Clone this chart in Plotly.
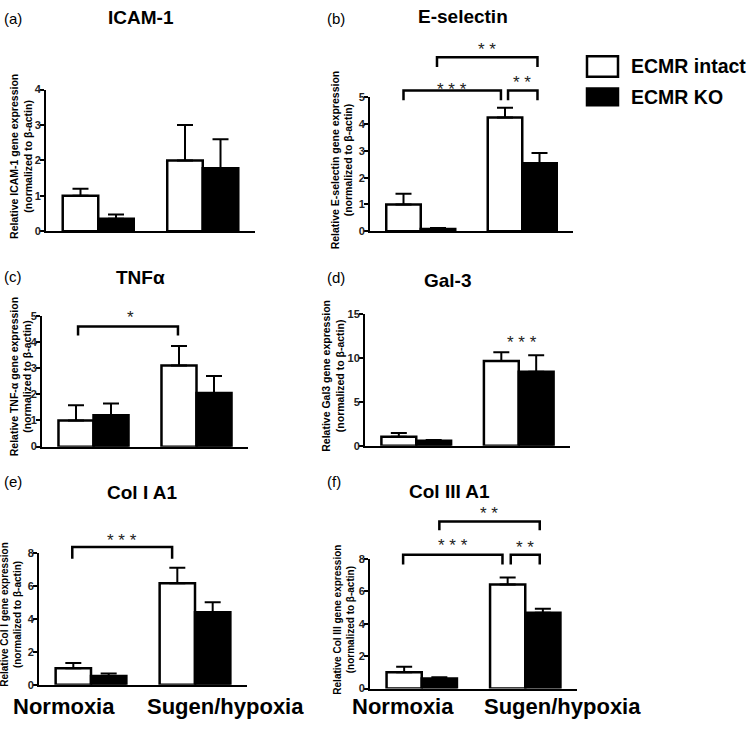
import plotly.graph_objects as go

W, H = 751, 730

groups = ["Normoxia", "Sugen/hypoxia"]
series_names = ["ECMR intact", "ECMR KO"]

# ---- data (mean, upper SEM) ----
icam_intact = [1.0, 2.0]
icam_intact_err = [0.2, 1.0]
icam_ko = [0.35, 1.78]
icam_ko_err = [0.12, 0.82]

esel_intact = [1.0, 4.25]
esel_intact_err = [0.4, 0.37]
esel_ko = [0.08, 2.54]
esel_ko_err = [0.04, 0.38]

tnf_intact = [1.0, 3.1]
tnf_intact_err = [0.58, 0.75]
tnf_ko = [1.2, 2.05]
tnf_ko_err = [0.45, 0.65]

gal_intact = [1.0, 9.63]
gal_intact_err = [0.45, 1.0]
gal_ko = [0.55, 8.4]
gal_ko_err = [0.1, 1.9]

col1_intact = [1.0, 6.15]
col1_intact_err = [0.32, 0.95]
col1_ko = [0.52, 4.4]
col1_ko_err = [0.15, 0.6]

col3_intact = [1.0, 6.42]
col3_intact_err = [0.35, 0.43]
col3_ko = [0.62, 4.67]
col3_ko_err = [0.08, 0.25]

titles = ["ICAM-1", "E-selectin", "TNFα", "Gal-3", "Col I A1", "Col III A1"]
panel_labels = ["(a)", "(b)", "(c)", "(d)", "(e)", "(f)"]
ytitles = [
    "Relative ICAM-1 gene expression",
    "Relative E-selectin gene expression",
    "Relative TNF-α gene expression",
    "Relative Gal3 gene expression",
    "Relative Col I gene expression",
    "Relative Col III gene expression",
]
ymax = [4, 5, 5, 15, 8, 8]
ydtick = [1, 1, 1, 5, 2, 2]

# significance brackets: (x0, x1, y_top, y_leg, label, label_x, label_y)
brackets = {
    1: [(-0.17, 0.79, 5.26, 4.9, "* * *", 0.31, 5.3),
        (0.86, 1.15, 5.26, 4.9, "* *", 1.0, 5.55),
        (0.16, 1.15, 6.5, 6.14, "* *", 0.65, 6.8)],
    2: [(-0.15, 0.82, 4.59, 4.25, "*", 0.36, 4.92)],
    3: [(None, None, None, None, "* * *", 1.03, 11.7)],
    4: [(-0.18, 0.78, 8.36, 7.64, "* * *", 0.3, 8.75)],
    5: [(-0.18, 0.78, 8.24, 7.64, "* * *", 0.3, 8.8),
        (0.86, 1.14, 8.24, 7.64, "* *", 1.0, 8.7),
        (0.17, 1.14, 10.3, 9.76, "* *", 0.65, 10.8)],
}

data = [
    (icam_intact, icam_intact_err, icam_ko, icam_ko_err),
    (esel_intact, esel_intact_err, esel_ko, esel_ko_err),
    (tnf_intact, tnf_intact_err, tnf_ko, tnf_ko_err),
    (gal_intact, gal_intact_err, gal_ko, gal_ko_err),
    (col1_intact, col1_intact_err, col1_ko, col1_ko_err),
    (col3_intact, col3_intact_err, col3_ko, col3_ko_err),
]

# layout in pixels: (x_left, x_right, y_top, y_bottom)
boxes = [
    (46, 255, 85, 229),
    (370, 573, 93, 229),
    (42, 248, 315, 448),
    (365, 570, 313, 447),
    (39, 247, 556, 690),
    (370, 577, 562, 694),
]
title_pos = [(141, 12), (463, 11), (140, 276), (448, 279), (142, 495), (449, 494)]
label_pos = [(2, 13), (325, 13), (2, 275), (325, 276), (2, 483), (325, 483)]
ytitle_x = [21.5, 342, 21, 333, 11, 344]
ytitle_size = [10.5, 10.5, 10.5, 10.5, 10, 10]

# group label horizontal offsets (px) for panels e and f
group_shift = {"x5": [-27, 30], "x6": [-19, 37]}

FONT = "Liberation Sans, Arial, sans-serif"

fig = go.Figure()
layout = dict(
    width=W, height=H, margin=dict(l=0, r=0, t=0, b=0),
    paper_bgcolor="white", plot_bgcolor="white",
    barmode="group", bargap=0.32, bargroupgap=0,
    showlegend=False, font=dict(family=FONT, color="black"),
)
shapes = []
annotations = []

for i, (vi, ei, vk, ek) in enumerate(data):
    n = i + 1
    xa = "x" if n == 1 else f"x{n}"
    ya = "y" if n == 1 else f"y{n}"
    xl, xr, yt, yb = boxes[i]
    for vals, errs, fill, name in [(vi, ei, "white", series_names[0]), (vk, ek, "black", series_names[1])]:
        fig.add_trace(go.Bar(
            x=groups, y=vals, name=name, xaxis=xa, yaxis=ya,
            offsetgroup=name,
            marker=dict(color=fill, line=dict(color="black", width=2.5)),
            error_y=dict(type="data", array=errs, arrayminus=[0] * len(errs), symmetric=False,
                         color="black", thickness=2, width=8),
        ))
    layout["xaxis" if n == 1 else f"xaxis{n}"] = dict(
        domain=[xl / W, xr / W], anchor=ya, range=[-0.5, 1.5], type="category",
        showline=True, linewidth=2, linecolor="black", ticks="", showticklabels=False,
        showgrid=False, zeroline=False, fixedrange=True,
    )
    layout["yaxis" if n == 1 else f"yaxis{n}"] = dict(
        domain=[1 - yb / H, 1 - yt / H], anchor=xa, range=[0, ymax[i]], dtick=ydtick[i],
        showline=True, linewidth=2, linecolor="black", ticks="outside", ticklen=4,
        tickwidth=2, tickcolor="black", showgrid=False, zeroline=False,
        ticklabelstandoff=-3,
        tickfont=dict(family=FONT, size=11, color="#222", weight="bold"), fixedrange=True,
    )
    # titles
    tx, ty = title_pos[i]
    annotations.append(dict(text=f"<b>{titles[i]}</b>", x=tx / W, y=1 - ty / H, xref="paper", yref="paper",
                            showarrow=False, xanchor="center", yanchor="middle",
                            font=dict(family=FONT, size=19, color="black")))
    lx, ly = label_pos[i]
    annotations.append(dict(text=panel_labels[i], x=lx / W, y=1 - ly / H, xref="paper", yref="paper",
                            showarrow=False, xanchor="left", yanchor="middle",
                            font=dict(family=FONT, size=15, color="black")))
    annotations.append(dict(text=f"<b>{ytitles[i]}<br>(normalized to β-actin)</b>",
                            x=ytitle_x[i] / W, y=0.5, xref="paper", yref=f"{ya} domain",
                            yshift=4, textangle=-90, showarrow=False,
                            xanchor="center", yanchor="middle",
                            font=dict(family=FONT, size=ytitle_size[i], color="black")))
    for (x0, x1, ytop, yleg, lab, labx, laby) in brackets.get(i, []):
        if x0 is not None:
            path = (f"M {x0} {yleg / ymax[i]} L {x0} {ytop / ymax[i]} "
                    f"L {x1} {ytop / ymax[i]} L {x1} {yleg / ymax[i]}")
            shapes.append(dict(type="path", path=path, xref=xa, yref=f"{ya} domain",
                               line=dict(color="black", width=2.5)))
        annotations.append(dict(text=lab, x=labx, y=laby / ymax[i], xref=xa, yref=f"{ya} domain",
                                showarrow=False, xanchor="center", yanchor="middle",
                                font=dict(family=FONT, size=17, color="#222")))

# group labels under bottom panels
for xa in ["x5", "x6"]:
    for g, shift in zip(groups, group_shift[xa]):
        annotations.append(dict(text=f"<b>{g}</b>", x=g, y=1 - 712 / H, xref=xa, yref="paper",
                                xshift=shift, showarrow=False, xanchor="center", yanchor="middle",
                                font=dict(family=FONT, size=22, color="black")))

# legend
legend_rows = [(series_names[0], "white", 51, 72), (series_names[1], "black", 84, 101)]
for name, fill, t, b in legend_rows:
    shapes.append(dict(type="rect", xref="paper", yref="paper",
                       x0=587 / W, x1=618 / W, y0=1 - b / H, y1=1 - t / H,
                       fillcolor=fill, line=dict(color="black", width=2.5)))
    annotations.append(dict(text=f"<b>{name}</b>", x=629 / W, y=1 - ((t + b) / 2) / H,
                            xref="paper", yref="paper", showarrow=False,
                            xanchor="left", yanchor="middle",
                            font=dict(family=FONT, size=19.5, color="black")))

layout["shapes"] = shapes
layout["annotations"] = annotations
fig.update_layout(**layout)
fig.write_html("out.html", config={"displayModeBar": False},
               post_script="document.body.style.margin='0';document.body.style.padding='0';")
